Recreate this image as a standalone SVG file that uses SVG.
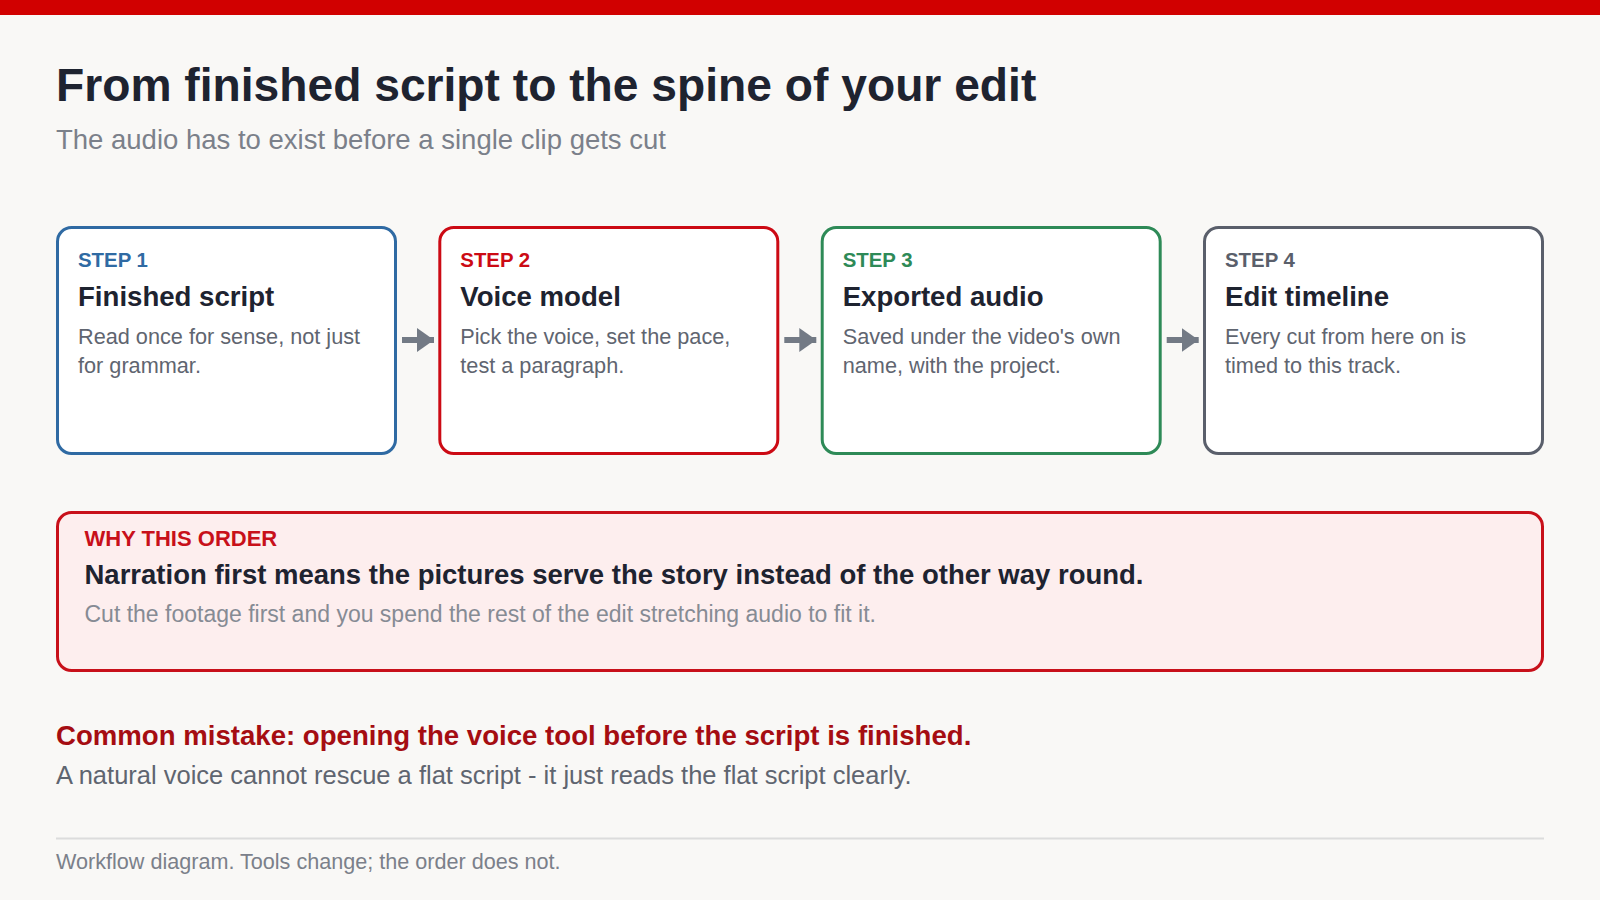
<svg xmlns="http://www.w3.org/2000/svg" width="1600" height="900" viewBox="0 0 1600 900">
<style>
text{font-family:"Liberation Sans",Arial,sans-serif}
.title{font-size:46.2px;font-weight:700;fill:#1e2330}
.sub{font-size:27.5px;fill:#7b808a}
.card{fill:#ffffff;stroke-width:3}
.lbl{font-size:20.4px;font-weight:700}
.ct{font-size:27.6px;font-weight:700;fill:#1e2330}
.cd{font-size:21.7px;fill:#5f6570}
.conn{stroke:#737a85;stroke-width:6}
</style>
<defs>
<marker id="ah" markerUnits="userSpaceOnUse" markerWidth="18" markerHeight="24" refX="17" refY="12" orient="auto">
<path d="M0,0 L17,12 L0,24 Z" fill="#737a85"/>
</marker>
</defs>
<rect x="0" y="0" width="1600" height="900" fill="#f9f8f6"/>
<rect x="0" y="0" width="1600" height="15" fill="#d10000"/>
<g id="header">
<text class="title" x="56" y="101">From finished script to the spine of your edit</text>
<text class="sub" x="56" y="149">The audio has to exist before a single clip gets cut</text>
</g>
<g id="step1">
<rect class="card" x="57.5" y="227.5" width="338" height="226" rx="14" stroke="#2f6aa3"/>
<text class="lbl" x="78" y="267" fill="#2f6aa3">STEP 1</text>
<text class="ct" x="78" y="306">Finished script</text>
<text class="cd" x="78" y="344">Read once for sense, not just</text>
<text class="cd" x="78" y="372.5">for grammar.</text>
</g>
<g id="step2">
<rect class="card" x="439.8" y="227.5" width="338" height="226" rx="14" stroke="#cc0a14"/>
<text class="lbl" x="460.3" y="267" fill="#cc0a14">STEP 2</text>
<text class="ct" x="460.3" y="306">Voice model</text>
<text class="cd" x="460.3" y="344">Pick the voice, set the pace,</text>
<text class="cd" x="460.3" y="372.5">test a paragraph.</text>
</g>
<g id="step3">
<rect class="card" x="822.2" y="227.5" width="338" height="226" rx="14" stroke="#2e8a57"/>
<text class="lbl" x="842.7" y="267" fill="#2e8a57">STEP 3</text>
<text class="ct" x="842.7" y="306">Exported audio</text>
<text class="cd" x="842.7" y="344">Saved under the video's own</text>
<text class="cd" x="842.7" y="372.5">name, with the project.</text>
</g>
<g id="step4">
<rect class="card" x="1204.5" y="227.5" width="338" height="226" rx="14" stroke="#5a5f6b"/>
<text class="lbl" x="1225" y="267" fill="#5a5f6b">STEP 4</text>
<text class="ct" x="1225" y="306">Edit timeline</text>
<text class="cd" x="1225" y="344">Every cut from here on is</text>
<text class="cd" x="1225" y="372.5">timed to this track.</text>
</g>
<g id="connectors">
<line class="conn" x1="402" y1="340" x2="434" y2="340" marker-end="url(#ah)"/>
<line class="conn" x1="784.3" y1="340" x2="816.3" y2="340" marker-end="url(#ah)"/>
<line class="conn" x1="1166.7" y1="340" x2="1198.7" y2="340" marker-end="url(#ah)"/>
</g>
<g id="why">
<rect x="57.5" y="512.5" width="1485" height="158" rx="14" fill="#fdeeee" stroke="#c8101a" stroke-width="3"/>
<text x="84.5" y="546" font-size="22" font-weight="700" fill="#c8101a">WHY THIS ORDER</text>
<text x="84.5" y="583.5" font-size="27.5" font-weight="700" fill="#1e2330">Narration first means the pictures serve the story instead of the other way round.</text>
<text x="84.5" y="621.5" font-size="23" fill="#868b94">Cut the footage first and you spend the rest of the edit stretching audio to fit it.</text>
</g>
<g id="mistake">
<text x="56" y="744.5" font-size="27.6" font-weight="700" fill="#a50d12">Common mistake: opening the voice tool before the script is finished.</text>
<text x="56" y="783.5" font-size="25.5" fill="#5f6570">A natural voice cannot rescue a flat script - it just reads the flat script clearly.</text>
</g>
<g id="footer">
<line x1="56" y1="838.5" x2="1544" y2="838.5" stroke="#dcdcdc" stroke-width="2"/>
<text x="56" y="868.5" font-size="21.6" fill="#7b808a">Workflow diagram. Tools change; the order does not.</text>
</g>
</svg>
